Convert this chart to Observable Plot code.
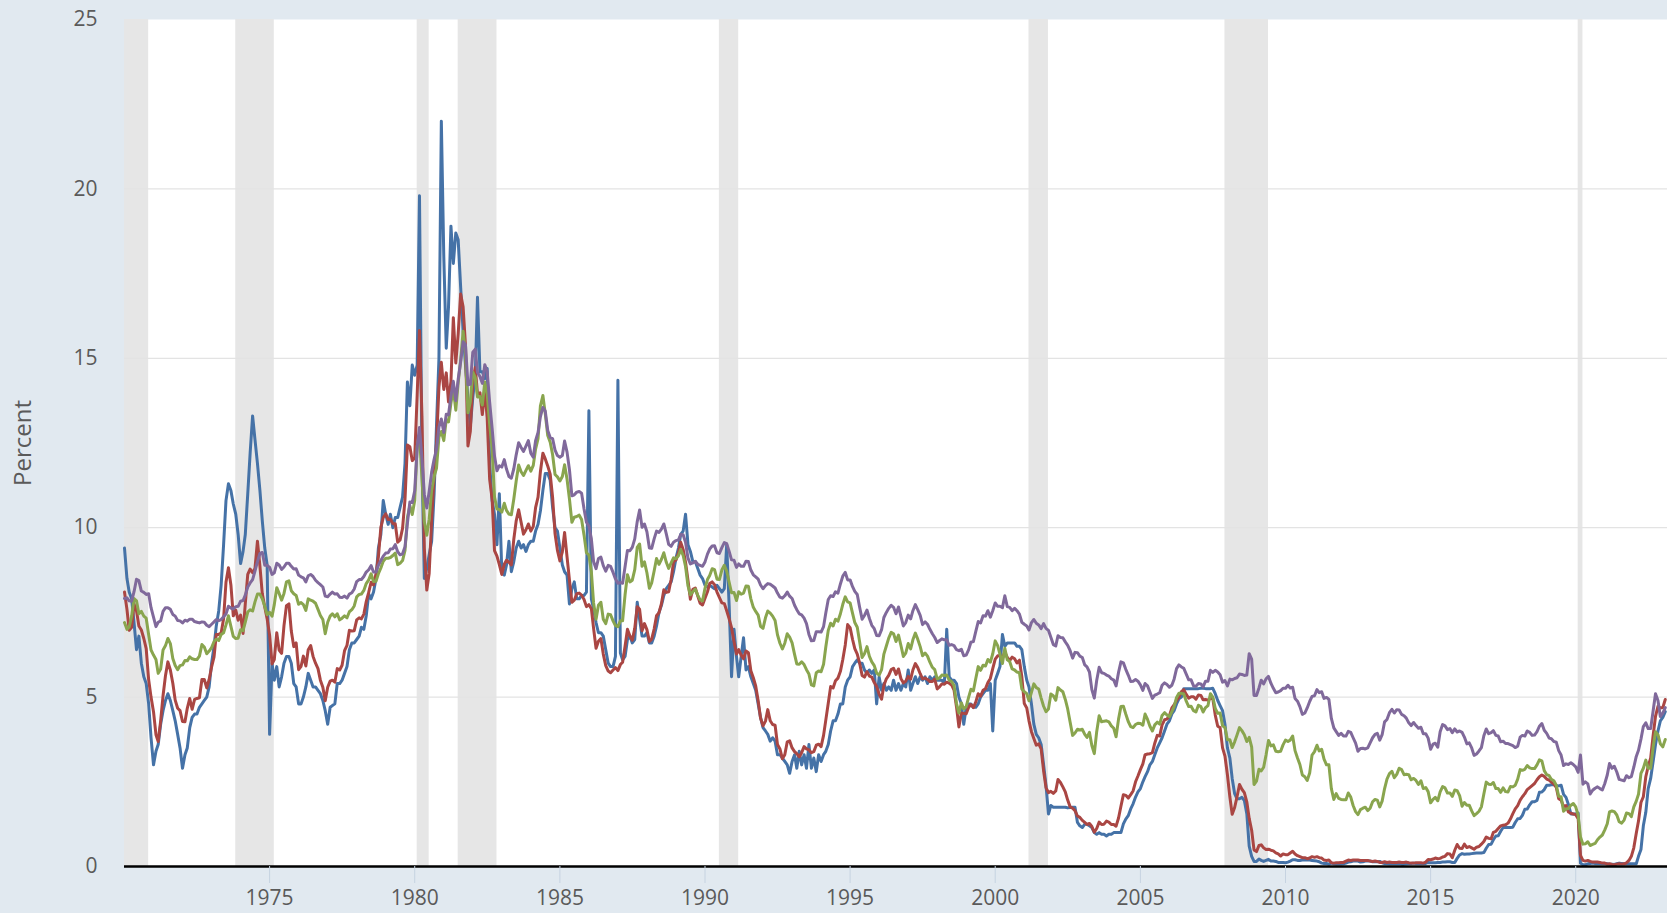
<!DOCTYPE html>
<html>
<head>
<meta charset="utf-8">
<script src="https://cdn.jsdelivr.net/npm/d3@7"></script>
<script src="https://cdn.jsdelivr.net/npm/@observablehq/plot@0.6"></script>
<style>
  html, body { margin: 0; padding: 0; background: #e1e9f0; }
  #chart svg { display: block; }
</style>
</head>
<body>
<div id="chart"></div>
<script>
// Monthly observations starting January 1970 (last value: February 2023)
const startYear = 1970;

// Blue series
const seriesBlue = [
  9.40, 8.50, 8.10, 7.90, 7.20, 6.40, 6.80, 6.00, 5.60, 5.40, 4.80, 3.80,
  3.00, 3.40, 3.60, 4.20, 4.60, 4.90, 5.10, 4.90, 4.60, 4.30, 3.90, 3.50,
  2.90, 3.30, 3.50, 4.10, 4.40, 4.50, 4.50, 4.70, 4.80, 4.90, 5.00, 5.30,
  6.00, 6.50, 7.10, 7.55, 8.30, 9.50, 10.80, 11.30, 11.10, 10.70, 10.40, 9.80,
  8.94, 9.30, 9.80, 11.00, 12.20, 13.30, 12.60, 11.90, 11.10, 10.20, 9.40, 8.90,
  3.90, 6.00, 5.50, 5.90, 5.30, 5.60, 6.00, 6.20, 6.20, 6.00, 5.40, 5.30,
  4.80, 4.80, 5.00, 5.30, 5.70, 5.50, 5.30, 5.30, 5.20, 5.10, 4.90, 4.60,
  4.20, 4.70, 4.75, 4.80, 5.40, 5.40, 5.50, 5.70, 5.90, 6.40, 6.60, 6.60,
  6.70, 6.80, 7.06, 7.00, 7.40, 8.05, 7.90, 8.10, 8.50, 9.40, 9.80, 10.80,
  10.40, 10.10, 10.40, 10.00, 10.30, 10.30, 10.60, 10.90, 11.90, 14.30, 13.60, 14.80,
  14.50, 14.80, 19.80, 12.00, 8.50, 8.80, 9.20, 9.60, 11.00, 13.00, 15.00, 22.00,
  18.00, 15.30, 16.50, 18.90, 17.80, 18.70, 18.50, 17.10, 15.80, 14.80, 13.80, 13.00,
  13.85, 14.50, 16.80, 14.60, 14.60, 14.40, 14.70, 11.90, 10.80, 10.40, 9.50, 11.00,
  8.70, 8.60, 8.90, 9.60, 8.70, 9.00, 9.40, 9.60, 9.40, 9.50, 9.30, 9.50,
  9.60, 9.60, 9.90, 10.10, 10.50, 11.10, 11.60, 11.60, 11.40, 10.60, 10.00, 9.90,
  9.40, 8.90, 8.70, 8.60, 7.75, 8.20, 8.40, 7.90, 7.90, 8.00, 8.00, 8.10,
  13.45, 7.90, 7.60, 7.20, 6.90, 6.90, 6.80, 6.40, 6.00, 5.90, 5.90, 6.20,
  14.35, 6.30, 6.10, 6.20, 6.70, 6.80, 6.60, 6.70, 7.80, 7.30, 6.80, 6.80,
  6.90, 6.60, 6.60, 6.80, 7.10, 7.50, 7.70, 8.00, 8.20, 8.30, 8.40, 8.70,
  9.10, 9.40, 9.80, 9.90, 10.40, 9.50, 9.30, 9.00, 9.00, 8.80, 8.60, 8.50,
  8.30, 8.25, 8.30, 8.25, 8.20, 8.30, 8.20, 8.10, 8.20, 9.50, 7.70, 5.60,
  7.00, 6.20, 5.60, 6.20, 6.75, 5.80, 5.90, 5.60, 5.40, 5.20, 4.80, 4.40,
  4.10, 4.00, 3.90, 3.70, 3.80, 3.70, 3.30, 3.30, 3.20, 3.10, 3.00, 2.75,
  3.10, 3.30, 2.90, 3.40, 3.00, 3.30, 2.90, 3.60, 2.90, 3.20, 2.80, 3.30,
  3.10, 3.30, 3.40, 3.60, 4.00, 4.30, 4.30, 4.50, 4.80, 4.80, 5.30, 5.50,
  5.60, 5.90, 6.00, 6.10, 6.00, 6.00, 5.80, 5.70, 5.80, 5.70, 5.80, 4.80,
  5.60, 5.20, 5.40, 5.20, 5.30, 5.20, 5.50, 5.20, 5.40, 5.20, 5.40, 5.30,
  5.80, 5.20, 5.40, 5.60, 5.40, 5.60, 5.50, 5.60, 5.40, 5.60, 5.50, 5.60,
  5.50, 5.50, 5.50, 5.40, 7.00, 5.60, 5.50, 5.50, 5.40, 5.00, 4.80, 4.20,
  4.70, 4.80, 4.80, 4.70, 4.70, 4.80, 5.00, 5.10, 5.20, 5.20, 5.40, 4.00,
  5.50, 5.70, 5.90, 6.85, 6.50, 6.60, 6.60, 6.60, 6.60, 6.50, 6.50, 6.40,
  5.90, 5.50, 5.30, 4.80, 4.20, 3.90, 3.80, 3.60, 3.00, 2.40, 1.55, 1.80,
  1.75, 1.75, 1.75, 1.75, 1.75, 1.75, 1.73, 1.74, 1.75, 1.75, 1.30, 1.20,
  1.15, 1.25, 1.25, 1.20, 1.15, 1.00, 0.95, 1.00, 0.95, 0.95, 0.90, 0.95,
  0.95, 1.00, 1.00, 1.00, 1.00, 1.26, 1.40, 1.50, 1.70, 1.85, 2.05, 2.20,
  2.30, 2.50, 2.65, 2.80, 3.00, 3.10, 3.30, 3.50, 3.65, 3.80, 4.00, 4.20,
  4.30, 4.50, 4.60, 4.80, 4.95, 5.00, 5.25, 5.25, 5.25, 5.25, 5.25, 5.25,
  5.25, 5.26, 5.26, 5.25, 5.25, 5.25, 5.26, 5.10, 4.90, 4.75, 4.60, 4.20,
  3.50, 3.20, 2.60, 2.15, 2.00, 2.00, 2.04, 1.95, 1.56, 0.60, 0.30, 0.15,
  0.15, 0.22, 0.18, 0.15, 0.18, 0.21, 0.16, 0.16, 0.15, 0.12, 0.12, 0.12,
  0.11, 0.13, 0.16, 0.20, 0.20, 0.18, 0.18, 0.19, 0.19, 0.19, 0.19, 0.18,
  0.17, 0.16, 0.14, 0.10, 0.09, 0.09, 0.07, 0.10, 0.08, 0.07, 0.08, 0.07,
  0.08, 0.10, 0.13, 0.14, 0.16, 0.16, 0.16, 0.13, 0.14, 0.16, 0.16, 0.16,
  0.14, 0.15, 0.14, 0.15, 0.11, 0.09, 0.09, 0.08, 0.08, 0.09, 0.08, 0.09,
  0.07, 0.07, 0.08, 0.09, 0.09, 0.10, 0.09, 0.09, 0.09, 0.09, 0.09, 0.12,
  0.11, 0.11, 0.11, 0.12, 0.12, 0.13, 0.13, 0.14, 0.14, 0.12, 0.12, 0.24,
  0.34, 0.38, 0.36, 0.37, 0.37, 0.38, 0.39, 0.40, 0.40, 0.40, 0.41, 0.54,
  0.65, 0.66, 0.79, 0.90, 0.91, 1.04, 1.15, 1.16, 1.15, 1.15, 1.16, 1.30,
  1.41, 1.42, 1.51, 1.69, 1.70, 1.82, 1.91, 1.91, 1.95, 2.19, 2.20, 2.27,
  2.40, 2.40, 2.41, 2.42, 2.39, 2.38, 2.40, 2.13, 2.04, 1.83, 1.55, 1.55,
  1.55, 1.58, 0.10, 0.05, 0.05, 0.08, 0.09, 0.10, 0.09, 0.09, 0.09, 0.09,
  0.09, 0.08, 0.07, 0.07, 0.06, 0.08, 0.10, 0.09, 0.08, 0.08, 0.08, 0.08,
  0.08, 0.08, 0.30, 0.50, 1.20, 1.60, 2.30, 2.60, 3.10, 3.60, 4.00, 4.30,
  4.40, 4.57
];

// Red series
const seriesRed = [
  8.10, 7.59, 6.97, 7.06, 7.75, 7.55, 7.10, 6.98, 6.73, 6.43, 5.51, 5.00,
  4.57, 3.89, 3.69, 4.30, 5.04, 5.64, 6.04, 5.80, 5.41, 4.91, 4.67, 4.60,
  4.28, 4.27, 4.67, 4.96, 4.64, 4.93, 4.96, 4.98, 5.52, 5.52, 5.27, 5.52,
  5.89, 6.19, 6.85, 6.85, 6.89, 7.31, 8.39, 8.82, 8.31, 7.40, 7.57, 7.27,
  7.42, 6.88, 7.76, 8.62, 8.78, 8.67, 8.80, 9.60, 8.87, 8.05, 7.66, 7.31,
  6.83, 5.98, 6.11, 6.90, 6.39, 6.29, 7.11, 7.70, 7.75, 6.95, 6.49, 6.60,
  5.81, 5.91, 6.21, 5.92, 6.40, 6.52, 6.20, 6.00, 5.84, 5.50, 5.29, 4.89,
  5.29, 5.47, 5.50, 5.44, 5.84, 5.80, 5.94, 6.37, 6.53, 6.97, 6.95, 6.96,
  7.28, 7.34, 7.31, 7.45, 7.82, 8.09, 8.39, 8.31, 8.64, 9.14, 10.01, 10.30,
  10.41, 10.24, 10.25, 10.12, 10.12, 9.57, 9.64, 9.98, 10.84, 12.44, 12.39, 11.98,
  12.06, 13.92, 15.82, 13.30, 9.39, 8.16, 8.65, 10.24, 11.52, 12.49, 14.15, 14.88,
  14.08, 14.57, 13.71, 14.32, 16.20, 14.86, 15.72, 16.90, 16.52, 15.38, 12.41, 12.85,
  14.32, 14.73, 13.95, 13.98, 13.34, 14.07, 13.24, 11.43, 10.85, 9.32, 9.16, 8.91,
  8.62, 8.92, 9.04, 8.98, 8.90, 9.66, 10.20, 10.53, 10.16, 9.81, 9.94, 10.11,
  9.90, 10.04, 10.59, 10.90, 11.66, 12.20, 12.03, 11.82, 11.58, 10.90, 9.82, 9.33,
  9.02, 9.29, 9.86, 9.14, 8.46, 7.80, 7.86, 8.05, 8.07, 8.01, 7.88, 7.67,
  7.73, 7.61, 7.03, 6.44, 6.65, 6.73, 6.27, 5.93, 5.77, 5.72, 5.80, 5.87,
  5.78, 5.96, 6.03, 6.50, 7.00, 6.80, 6.68, 7.03, 7.67, 7.59, 6.96, 7.17,
  6.99, 6.64, 6.71, 7.01, 7.40, 7.49, 7.75, 8.17, 8.09, 8.11, 8.48, 8.99,
  9.05, 9.25, 9.57, 9.36, 8.98, 8.44, 7.89, 8.18, 8.22, 7.99, 7.77, 7.72,
  7.92, 8.11, 8.35, 8.40, 8.32, 8.10, 7.94, 7.78, 7.76, 7.55, 7.31, 7.05,
  6.64, 6.27, 6.40, 6.24, 6.13, 6.36, 6.31, 5.78, 5.57, 5.33, 4.89, 4.38,
  4.15, 4.29, 4.63, 4.30, 4.19, 4.17, 3.60, 3.47, 3.18, 3.30, 3.68, 3.71,
  3.50, 3.39, 3.33, 3.24, 3.36, 3.54, 3.47, 3.44, 3.36, 3.39, 3.58, 3.61,
  3.54, 3.87, 4.32, 4.82, 5.31, 5.27, 5.48, 5.56, 5.76, 6.11, 6.54, 7.14,
  7.05, 6.70, 6.43, 6.27, 6.00, 5.64, 5.59, 5.75, 5.62, 5.59, 5.43, 5.31,
  5.09, 4.94, 5.34, 5.54, 5.64, 5.81, 5.85, 5.67, 5.83, 5.55, 5.42, 5.47,
  5.61, 5.53, 5.80, 5.99, 5.87, 5.69, 5.54, 5.56, 5.52, 5.46, 5.46, 5.53,
  5.24, 5.31, 5.39, 5.38, 5.44, 5.41, 5.36, 5.21, 4.71, 4.12, 4.53, 4.52,
  4.51, 4.70, 4.78, 4.69, 4.85, 5.10, 5.03, 5.20, 5.25, 5.43, 5.55, 5.84,
  6.12, 6.22, 6.22, 6.15, 6.33, 6.17, 6.08, 6.18, 6.13, 6.01, 6.09, 5.60,
  4.81, 4.68, 4.30, 3.98, 3.78, 3.58, 3.62, 3.47, 2.82, 2.33, 2.18, 2.22,
  2.16, 2.23, 2.57, 2.48, 2.35, 2.20, 1.96, 1.76, 1.72, 1.65, 1.49, 1.45,
  1.36, 1.30, 1.24, 1.27, 1.18, 1.01, 1.12, 1.31, 1.24, 1.25, 1.34, 1.31,
  1.24, 1.24, 1.19, 1.43, 1.78, 2.12, 2.10, 2.02, 2.12, 2.23, 2.50, 2.67,
  2.86, 3.03, 3.30, 3.32, 3.33, 3.36, 3.64, 3.87, 3.85, 4.18, 4.33, 4.35,
  4.45, 4.68, 4.77, 4.90, 5.00, 5.16, 5.22, 5.08, 4.97, 5.01, 5.01, 4.94,
  5.06, 5.05, 4.92, 4.93, 4.91, 4.96, 4.96, 4.47, 4.14, 4.10, 3.50, 3.26,
  2.71, 2.05, 1.54, 1.74, 2.06, 2.42, 2.28, 2.18, 1.91, 1.42, 1.07, 0.49,
  0.44, 0.62, 0.64, 0.55, 0.50, 0.51, 0.48, 0.46, 0.40, 0.37, 0.31, 0.37,
  0.35, 0.35, 0.40, 0.45, 0.37, 0.32, 0.29, 0.26, 0.26, 0.23, 0.25, 0.29,
  0.27, 0.29, 0.26, 0.25, 0.19, 0.18, 0.19, 0.11, 0.10, 0.11, 0.11, 0.12,
  0.12, 0.16, 0.19, 0.18, 0.19, 0.19, 0.19, 0.18, 0.18, 0.18, 0.18, 0.16,
  0.15, 0.16, 0.15, 0.12, 0.12, 0.14, 0.12, 0.13, 0.12, 0.12, 0.12, 0.13,
  0.12, 0.12, 0.13, 0.11, 0.10, 0.10, 0.11, 0.11, 0.11, 0.10, 0.13, 0.21,
  0.20, 0.22, 0.25, 0.23, 0.24, 0.28, 0.30, 0.38, 0.37, 0.26, 0.48, 0.65,
  0.54, 0.53, 0.66, 0.56, 0.59, 0.55, 0.51, 0.57, 0.59, 0.66, 0.74, 0.87,
  0.83, 0.82, 1.01, 1.04, 1.12, 1.20, 1.22, 1.23, 1.28, 1.40, 1.56, 1.70,
  1.80, 1.96, 2.06, 2.15, 2.27, 2.33, 2.39, 2.45, 2.56, 2.65, 2.70, 2.66,
  2.58, 2.55, 2.49, 2.43, 2.34, 2.00, 1.96, 1.77, 1.80, 1.61, 1.57, 1.55,
  1.53, 1.41, 0.33, 0.18, 0.16, 0.18, 0.15, 0.13, 0.13, 0.13, 0.12, 0.10,
  0.10, 0.07, 0.08, 0.06, 0.05, 0.07, 0.08, 0.07, 0.08, 0.11, 0.18, 0.30,
  0.55, 0.98, 1.34, 1.89, 2.06, 2.65, 2.96, 3.20, 3.86, 4.43, 4.73, 4.68,
  4.69, 4.93
];

// Green series
const seriesGreen = [
  7.20, 7.00, 7.07, 7.39, 7.91, 7.84, 7.46, 7.53, 7.39, 7.33, 6.84, 6.39,
  6.24, 6.11, 5.70, 5.83, 6.39, 6.52, 6.73, 6.58, 6.14, 5.93, 5.81, 5.93,
  5.95, 6.08, 6.07, 6.19, 6.13, 6.11, 6.11, 6.21, 6.55, 6.48, 6.28, 6.36,
  6.46, 6.64, 6.71, 6.67, 6.85, 6.90, 7.13, 7.40, 7.09, 6.79, 6.73, 6.74,
  6.99, 6.96, 7.21, 7.51, 7.58, 7.54, 7.81, 8.04, 8.04, 7.90, 7.68, 7.43,
  7.50, 7.39, 7.73, 8.23, 8.06, 7.86, 8.06, 8.40, 8.43, 8.14, 8.05, 8.00,
  7.74, 7.79, 7.73, 7.56, 7.90, 7.86, 7.83, 7.77, 7.59, 7.41, 7.29, 6.87,
  7.21, 7.39, 7.46, 7.37, 7.46, 7.28, 7.33, 7.40, 7.34, 7.52, 7.58, 7.69,
  7.96, 8.03, 8.04, 8.15, 8.35, 8.46, 8.64, 8.41, 8.42, 8.64, 8.81, 9.01,
  9.10, 9.10, 9.12, 9.18, 9.25, 8.91, 8.95, 9.03, 9.33, 10.30, 10.65, 10.39,
  10.80, 12.41, 12.75, 11.47, 10.18, 9.78, 10.25, 11.10, 11.51, 11.75, 12.68, 12.84,
  12.57, 13.19, 13.12, 13.68, 14.10, 13.47, 14.28, 14.94, 15.80, 15.15, 13.39, 13.72,
  14.59, 14.43, 13.86, 13.87, 13.62, 14.30, 13.95, 13.06, 12.34, 10.91, 10.55, 10.54,
  10.46, 10.72, 10.51, 10.40, 10.38, 10.85, 11.38, 11.85, 11.65, 11.54, 11.69, 11.83,
  11.67, 11.84, 12.32, 12.63, 13.60, 13.90, 13.36, 12.72, 12.52, 12.16, 11.57, 11.50,
  11.38, 11.51, 11.86, 11.43, 10.85, 10.16, 10.31, 10.33, 10.37, 10.24, 9.78, 9.26,
  9.19, 8.70, 7.78, 7.30, 7.71, 7.80, 7.30, 7.17, 7.45, 7.43, 7.25, 7.11,
  7.08, 7.25, 7.25, 8.02, 8.61, 8.40, 8.45, 8.76, 9.42, 9.52, 8.86, 8.99,
  8.67, 8.21, 8.37, 8.72, 9.09, 8.92, 9.06, 9.26, 8.98, 8.80, 8.96, 9.11,
  9.09, 9.17, 9.36, 9.18, 8.86, 8.28, 8.02, 8.11, 8.19, 8.01, 7.87, 7.84,
  8.21, 8.47, 8.59, 8.79, 8.76, 8.48, 8.47, 8.75, 8.89, 8.72, 8.39, 8.08,
  8.09, 7.85, 8.11, 8.04, 8.07, 8.28, 8.27, 7.90, 7.65, 7.53, 7.42, 7.09,
  7.03, 7.34, 7.54, 7.48, 7.39, 7.26, 6.84, 6.59, 6.42, 6.59, 6.87, 6.77,
  6.60, 6.26, 5.98, 5.97, 6.04, 5.96, 5.81, 5.68, 5.36, 5.33, 5.72, 5.77,
  5.75, 5.97, 6.48, 6.97, 7.18, 7.10, 7.30, 7.24, 7.46, 7.74, 7.96, 7.81,
  7.78, 7.47, 7.20, 7.06, 6.63, 6.17, 6.28, 6.49, 6.20, 6.04, 5.93, 5.71,
  5.65, 5.81, 6.27, 6.51, 6.74, 6.91, 6.87, 6.64, 6.83, 6.53, 6.20, 6.30,
  6.58, 6.42, 6.69, 6.89, 6.71, 6.49, 6.22, 6.30, 6.21, 6.03, 5.88, 5.81,
  5.54, 5.57, 5.65, 5.64, 5.65, 5.50, 5.46, 5.34, 4.81, 4.53, 4.83, 4.65,
  4.72, 5.00, 5.23, 5.18, 5.54, 5.90, 5.79, 5.94, 5.92, 6.11, 6.03, 6.28,
  6.66, 6.52, 6.26, 5.99, 6.44, 6.10, 6.05, 5.83, 5.80, 5.74, 5.72, 5.24,
  5.16, 5.10, 4.89, 5.14, 5.39, 5.28, 5.24, 4.97, 4.73, 4.57, 4.65, 5.09,
  5.04, 4.91, 5.28, 5.21, 5.16, 4.93, 4.65, 4.26, 3.87, 3.94, 4.05, 4.03,
  4.05, 3.90, 3.81, 3.96, 3.57, 3.33, 3.98, 4.45, 4.27, 4.29, 4.30, 4.27,
  4.15, 4.08, 3.83, 4.35, 4.72, 4.73, 4.50, 4.28, 4.13, 4.10, 4.19, 4.23,
  4.22, 4.17, 4.50, 4.34, 4.14, 4.00, 4.18, 4.26, 4.20, 4.46, 4.54, 4.47,
  4.42, 4.57, 4.72, 4.99, 5.11, 5.11, 5.09, 4.88, 4.72, 4.73, 4.60, 4.56,
  4.76, 4.72, 4.56, 4.69, 4.75, 5.10, 5.00, 4.67, 4.52, 4.53, 4.15, 4.10,
  3.74, 3.74, 3.51, 3.68, 3.88, 4.10, 4.01, 3.89, 3.69, 3.81, 3.53, 2.42,
  2.52, 2.87, 2.82, 2.93, 3.29, 3.72, 3.56, 3.59, 3.40, 3.39, 3.40, 3.59,
  3.73, 3.69, 3.73, 3.85, 3.42, 3.20, 3.01, 2.70, 2.65, 2.54, 2.76, 3.29,
  3.39, 3.58, 3.41, 3.46, 3.17, 3.00, 3.00, 2.30, 1.98, 2.15, 2.01, 1.98,
  1.97, 1.97, 2.17, 2.05, 1.80, 1.62, 1.53, 1.68, 1.72, 1.75, 1.65, 1.72,
  1.91, 1.98, 1.96, 1.76, 1.93, 2.30, 2.58, 2.74, 2.81, 2.62, 2.72, 2.90,
  2.86, 2.71, 2.72, 2.71, 2.56, 2.60, 2.54, 2.42, 2.53, 2.30, 2.33, 2.21,
  1.88, 1.98, 2.04, 1.94, 2.20, 2.36, 2.32, 2.17, 2.17, 2.07, 2.26, 2.24,
  2.09, 1.78, 1.89, 1.81, 1.81, 1.64, 1.50, 1.56, 1.63, 1.76, 2.14, 2.49,
  2.43, 2.42, 2.48, 2.30, 2.30, 2.19, 2.32, 2.21, 2.20, 2.36, 2.35, 2.40,
  2.58, 2.86, 2.84, 2.87, 2.98, 2.91, 2.89, 2.89, 3.00, 3.15, 3.12, 2.83,
  2.71, 2.68, 2.57, 2.53, 2.40, 2.07, 2.06, 1.63, 1.70, 1.71, 1.81, 1.86,
  1.76, 1.50, 0.87, 0.66, 0.67, 0.73, 0.62, 0.65, 0.68, 0.79, 0.87, 0.93,
  1.08, 1.26, 1.61, 1.64, 1.62, 1.52, 1.32, 1.28, 1.37, 1.58, 1.56, 1.47,
  1.76, 1.93, 2.13, 2.75, 2.90, 3.14, 2.90, 2.90, 3.52, 3.98, 3.89, 3.62,
  3.53, 3.75
];

// Purple series
const seriesPurple = [
  7.91, 7.93, 7.84, 7.83, 8.11, 8.48, 8.44, 8.13, 8.09, 8.03, 8.05, 7.64,
  7.36, 7.08, 7.21, 7.25, 7.53, 7.64, 7.64, 7.59, 7.44, 7.39, 7.26, 7.25,
  7.19, 7.27, 7.24, 7.30, 7.30, 7.23, 7.21, 7.19, 7.22, 7.21, 7.12, 7.08,
  7.15, 7.22, 7.29, 7.26, 7.29, 7.37, 7.45, 7.68, 7.63, 7.60, 7.67, 7.68,
  7.83, 7.85, 8.01, 8.25, 8.37, 8.47, 8.72, 9.00, 9.24, 9.27, 8.89, 8.89,
  8.83, 8.62, 8.67, 8.95, 8.90, 8.77, 8.84, 8.95, 8.95, 8.86, 8.78, 8.79,
  8.60, 8.55, 8.52, 8.40, 8.58, 8.62, 8.56, 8.45, 8.38, 8.32, 8.25, 7.98,
  7.96, 8.04, 8.10, 8.04, 8.05, 7.95, 7.94, 7.98, 7.92, 8.04, 8.08, 8.19,
  8.41, 8.47, 8.47, 8.56, 8.69, 8.76, 8.88, 8.69, 8.69, 8.89, 9.03, 9.16,
  9.25, 9.26, 9.37, 9.38, 9.50, 9.29, 9.20, 9.23, 9.44, 10.13, 10.76, 10.74,
  11.09, 12.38, 12.96, 12.04, 10.99, 10.58, 11.07, 11.64, 12.02, 12.31, 12.97, 13.21,
  12.81, 13.35, 13.33, 13.88, 14.32, 13.75, 14.38, 14.89, 15.49, 15.40, 14.22, 14.23,
  15.18, 15.27, 14.58, 14.46, 14.26, 14.81, 14.61, 13.71, 12.94, 12.12, 11.68, 11.83,
  11.79, 12.01, 11.73, 11.51, 11.46, 11.74, 12.15, 12.51, 12.37, 12.25, 12.41, 12.57,
  12.20, 12.08, 12.57, 12.81, 13.28, 13.55, 13.44, 12.87, 12.66, 12.63, 12.29, 12.13,
  12.08, 12.13, 12.56, 12.23, 11.72, 10.94, 10.97, 11.05, 11.07, 11.02, 10.55, 10.16,
  10.05, 9.67, 9.00, 8.79, 9.09, 9.13, 8.88, 8.72, 8.89, 8.86, 8.68, 8.49,
  8.36, 8.38, 8.36, 8.85, 9.33, 9.32, 9.42, 9.67, 10.18, 10.52, 10.01, 10.11,
  9.88, 9.40, 9.39, 9.67, 9.90, 9.86, 9.96, 10.11, 9.82, 9.51, 9.45, 9.57,
  9.62, 9.64, 9.80, 9.79, 9.57, 9.10, 8.93, 8.96, 9.01, 8.92, 8.89, 8.86,
  8.99, 9.22, 9.37, 9.46, 9.47, 9.26, 9.24, 9.41, 9.56, 9.53, 9.30, 9.05,
  9.04, 8.83, 8.93, 8.86, 8.86, 9.01, 9.00, 8.75, 8.61, 8.55, 8.48, 8.31,
  8.20, 8.29, 8.35, 8.33, 8.28, 8.22, 8.07, 7.95, 7.92, 7.99, 8.10, 7.98,
  7.91, 7.71, 7.58, 7.46, 7.43, 7.33, 7.17, 6.85, 6.66, 6.67, 6.93, 6.93,
  6.92, 7.08, 7.48, 7.88, 7.99, 7.97, 8.11, 8.07, 8.34, 8.57, 8.68, 8.46,
  8.46, 8.26, 8.12, 8.03, 7.65, 7.30, 7.41, 7.57, 7.32, 7.12, 7.02, 6.82,
  6.81, 6.99, 7.35, 7.50, 7.62, 7.71, 7.65, 7.46, 7.66, 7.39, 7.10, 7.20,
  7.42, 7.31, 7.55, 7.73, 7.58, 7.41, 7.14, 7.22, 7.15, 7.00, 6.87, 6.76,
  6.61, 6.67, 6.72, 6.69, 6.69, 6.53, 6.55, 6.52, 6.40, 6.37, 6.41, 6.22,
  6.24, 6.40, 6.62, 6.64, 6.93, 7.23, 7.19, 7.40, 7.39, 7.55, 7.36, 7.55,
  7.78, 7.68, 7.68, 7.64, 7.99, 7.67, 7.65, 7.55, 7.62, 7.55, 7.45, 7.21,
  7.15, 7.10, 6.98, 7.20, 7.29, 7.18, 7.13, 7.02, 7.17, 7.03, 6.97, 6.77,
  6.55, 6.51, 6.81, 6.76, 6.75, 6.63, 6.53, 6.37, 6.15, 6.32, 6.31, 6.21,
  6.17, 5.95, 5.89, 5.74, 5.22, 4.97, 5.49, 5.88, 5.72, 5.70, 5.65, 5.62,
  5.54, 5.50, 5.33, 5.73, 6.04, 6.01, 5.82, 5.65, 5.46, 5.47, 5.52, 5.47,
  5.36, 5.20, 5.40, 5.33, 5.15, 4.96, 5.06, 5.09, 5.13, 5.35, 5.42, 5.37,
  5.29, 5.35, 5.53, 5.84, 5.95, 5.89, 5.85, 5.68, 5.51, 5.51, 5.33, 5.32,
  5.40, 5.39, 5.30, 5.47, 5.47, 5.79, 5.73, 5.79, 5.74, 5.66, 5.44, 5.49,
  5.33, 5.53, 5.51, 5.55, 5.57, 5.68, 5.67, 5.64, 5.65, 6.28, 6.12, 5.05,
  5.05, 5.27, 5.50, 5.39, 5.54, 5.61, 5.41, 5.26, 5.13, 5.15, 5.19, 5.26,
  5.26, 5.35, 5.27, 5.29, 4.96, 4.88, 4.72, 4.49, 4.53, 4.68, 4.87, 5.02,
  5.04, 5.22, 5.13, 5.16, 4.96, 4.99, 4.93, 4.37, 4.09, 3.98, 3.87, 3.93,
  3.85, 3.85, 3.99, 3.96, 3.80, 3.64, 3.40, 3.48, 3.49, 3.47, 3.50, 3.65,
  3.80, 3.90, 3.93, 3.73, 3.89, 4.27, 4.34, 4.54, 4.64, 4.53, 4.63, 4.62,
  4.49, 4.45, 4.38, 4.24, 4.16, 4.25, 4.16, 4.08, 4.11, 3.92, 3.92, 3.79,
  3.46, 3.61, 3.64, 3.52, 3.98, 4.19, 4.15, 4.04, 4.07, 3.95, 4.06, 3.97,
  4.00, 3.96, 3.82, 3.62, 3.65, 3.50, 3.28, 3.32, 3.41, 3.51, 3.86, 4.06,
  3.92, 3.95, 4.01, 3.87, 3.85, 3.68, 3.70, 3.63, 3.63, 3.60, 3.57, 3.51,
  3.55, 3.82, 3.87, 3.85, 4.00, 3.96, 3.87, 3.88, 3.98, 4.14, 4.22, 4.02,
  3.93, 3.79, 3.77, 3.69, 3.67, 3.42, 3.29, 2.98, 3.03, 3.01, 3.06, 3.01,
  2.94, 2.78, 3.29, 2.43, 2.50, 2.44, 2.14, 2.25, 2.31, 2.35, 2.30, 2.26,
  2.45, 2.70, 3.04, 2.90, 2.96, 2.79, 2.57, 2.55, 2.53, 2.68, 2.62, 2.65,
  2.93, 3.25, 3.43, 3.76, 4.13, 4.24, 4.07, 4.07, 4.59, 5.10, 4.90, 4.43,
  4.53, 4.69
];

const seriesNames = ["Blue series", "Red series", "Green series", "Purple series"];
const seriesColors = ["#4572a7", "#aa4643", "#89a54e", "#80699b"];

// Recession periods (shaded)
const recessionStart = ["1969-12-01", "1973-11-01", "1980-02-01", "1981-07-01", "1990-07-01", "2001-03-01", "2007-12-01", "2020-02-01"];
const recessionEnd   = ["1970-11-01", "1975-03-01", "1980-07-01", "1982-11-01", "1991-03-01", "2001-11-01", "2009-06-01", "2020-04-01"];

const yTicks = [0, 5, 10, 15, 20, 25];
const yGrid = [5, 10, 15, 20];
const xTickYears = [1975, 1980, 1985, 1990, 1995, 2000, 2005, 2010, 2015, 2020];
const xDomain = ["1970-01-01", "2023-03-01"];

// ---- build tables ----
const monthDate = i => new Date(Date.UTC(startYear, i, 1));
const allSeries = [seriesBlue, seriesRed, seriesGreen, seriesPurple];
const recessions = recessionStart.map((s, i) => ({start: new Date(s), end: new Date(recessionEnd[i])}));
const xTicks = xTickYears.map(y => new Date(Date.UTC(y, 0, 1)));

const lineMarks = allSeries.map((vals, k) =>
  Plot.line(vals.map((v, i) => ({date: monthDate(i), value: v})), {
    x: "date", y: "value",
    stroke: seriesColors[k], strokeWidth: 3,
    strokeLinejoin: "round", strokeLinecap: "round",
    title: () => seriesNames[k]
  })
);

const textColor = "#5a5a5a";

const chart = Plot.plot({
  width: 1667,
  height: 913,
  marginLeft: 124,
  marginRight: 0,
  marginTop: 19,
  marginBottom: 47,
  style: {
    background: "#e1e9f0",
    fontFamily: "'Open Sans', sans-serif",
    fontSize: "21px",
    color: textColor,
    overflow: "visible"
  },
  x: {type: "utc", domain: xDomain.map(d => new Date(d))},
  y: {domain: [0, 25]},
  marks: [
    Plot.frame({fill: "white", stroke: null}),
    Plot.rect(recessions, {x1: "start", x2: "end", y1: 0, y2: 25, fill: "#e6e6e6", clip: true}),
    Plot.ruleY(yGrid, {stroke: "#e3e3e3", strokeWidth: 1.2}),
    ...lineMarks,
    Plot.ruleY([0], {stroke: "#000", strokeWidth: 2.6}),
    Plot.axisY({ticks: yTicks, tickSize: 0, tickPadding: 27, label: null, fontSize: 21, fill: textColor}),
    Plot.axisX({ticks: xTicks, tickSize: 17, tickPadding: 7, tickFormat: d3.utcFormat("%Y"), label: null, stroke: "#c6d3e1", fontSize: 21, fill: textColor}),
    Plot.text(["Percent"], {frameAnchor: "left", textAnchor: "middle", lineAnchor: "middle", dx: -101, rotate: -90, fontSize: 24, fill: textColor})
  ]
});

document.getElementById("chart").appendChild(chart);
</script>
</body>
</html>
